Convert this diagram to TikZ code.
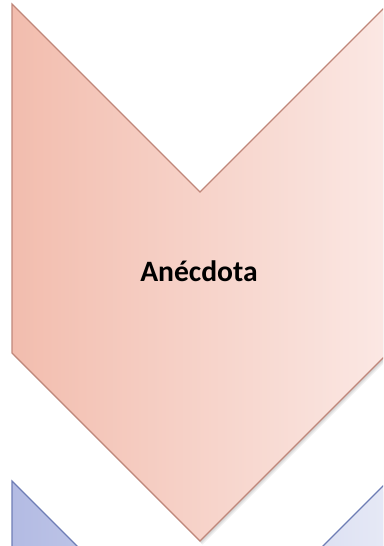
\documentclass[tikz,border=0pt]{standalone}
\usepackage{fontspec}
\setmainfont{Carlito}
\definecolor{pinkL}{HTML}{F2BDAE}
\definecolor{pinkR}{HTML}{FBE8E4}
\definecolor{pinkB}{HTML}{C0877A}
\definecolor{blueL}{HTML}{B3BBE3}
\definecolor{blueR}{HTML}{E6E9F6}
\definecolor{blueB}{HTML}{6E7DB5}
\tikzset{
  pinkchev/.style={left color=pinkL, right color=pinkR, draw=pinkB, line width=1.1pt, line join=miter},
  bluechev/.style={left color=blueL, right color=blueR, draw=blueB, line width=1.1pt, line join=miter},
  shadowlayer/.style={fill=black, opacity=0.05, draw=none}
}
\begin{document}
\begin{tikzpicture}[x=1pt,y=-1pt]
\useasboundingbox (0,0) rectangle (383,546);
\clip (0,0) rectangle (383,546);
% shadows
\foreach \d in {1,2,3,4} {
  \fill[shadowlayer, shift={(\d*0.6,\d*0.9)}]
    (12,4) -- (200,192) -- (388,4) -- (388,353) -- (200,541) -- (12,353) -- cycle;
  \fill[shadowlayer, shift={(\d*0.6,\d*0.9)}]
    (12,481) -- (200,669) -- (388,481) -- (388,830) -- (200,1018) -- (12,830) -- cycle;
}
% blue chevron
\path[bluechev] (12,481) -- (200,669) -- (388,481) -- (388,830) -- (200,1018) -- (12,830) -- cycle;
% pink chevron
\path[pinkchev] (12,4) -- (200,192) -- (388,4) -- (388,353) -- (200,541) -- (12,353) -- cycle;
\node[font=\bfseries\fontsize{29.6}{34}\selectfont, anchor=base, inner sep=0pt] (label) at (199,281) {Anécdota};
\end{tikzpicture}
\end{document}
